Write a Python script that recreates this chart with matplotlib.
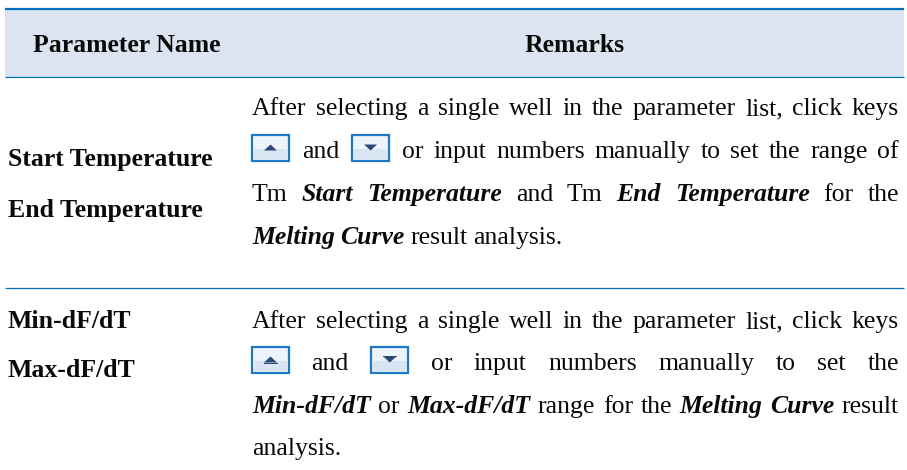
import matplotlib
matplotlib.use("Agg")
import matplotlib.pyplot as plt
from matplotlib.patches import Rectangle, Polygon

# table text
headers = ["Parameter Name", "Remarks"]
left_col_1 = ["Start Temperature", "End Temperature"]
left_col_2 = ["Min-dF/dT", "Max-dF/dT"]

# remarks, * = bold italic word, [up] / [down] = key icon
remarks_1 = [
    "After selecting a single well in the parameter list, click keys",
    "[up] and [down] or input numbers manually to set the range of",
    "Tm *Start *Temperature and Tm *End *Temperature for the",
    "*Melting *Curve result analysis.",
]
remarks_2 = [
    "After selecting a single well in the parameter list, click keys",
    "[up] and [down] or input numbers manually to set the",
    "*Min-dF/dT or *Max-dF/dT range for the *Melting *Curve result",
    "analysis.",
]

BLUE = "#0070c0"
HEAD = "#dbe4f0"
INK = "#0a0a0a"
SIZE = 18.5
FONT = "Liberation Serif"
X0, X1 = 252, 899

fig = plt.figure(figsize=(9.07, 4.7), dpi=100)
ax = fig.add_axes([0, 0, 1, 1])
ax.set_xlim(0, 907)
ax.set_ylim(470, 0)
ax.axis("off")

ax.add_patch(Rectangle((5, 9), 899, 68, fc=HEAD, ec="none"))
ax.plot([5, 904], [9, 9], color=BLUE, lw=1.6, solid_capstyle="butt")
ax.plot([5, 904], [77, 77], color=BLUE, lw=0.9, solid_capstyle="butt")
ax.plot([5, 904], [288, 288], color=BLUE, lw=0.9, solid_capstyle="butt")

renderer = fig.canvas.get_renderer()


def put(x, y, s, bold=True, italic=False, ha="left"):
    return ax.text(x, y, s, family=FONT, size=SIZE, color=INK, ha=ha, va="baseline",
                   fontweight="bold" if bold else "normal",
                   fontstyle="italic" if italic else "normal")


def key(x, y, up, stem):
    ax.add_patch(Rectangle((x, y), 37, 26, fc="#eef4fb", ec="#1a7ac8", lw=1.6))
    ax.add_patch(Rectangle((x + 2, y + 14), 33, 10, fc="#d9e5f3", ec="none"))
    cx, cy = x + 18.5, y + 12.5
    if up:
        pts = [(cx - 6.5, cy + 3), (cx + 6.5, cy + 3), (cx, cy - 3)]
    else:
        pts = [(cx - 6.5, cy - 3), (cx + 6.5, cy - 3), (cx, cy + 3)]
    ax.add_patch(Polygon(pts, fc="#2b4a75", ec="none"))
    if stem:
        sy = cy + 3 if up else cy - 4
        ax.add_patch(Rectangle((cx - 7, sy), 14, 1, fc="#2b4a75", ec="none"))


def line(y, text, justify=True, stem=False, pad=0):
    items = []
    total = 0
    for w in text.split():
        if w in ("[up]", "[down]"):
            items.append((w, None))
            total += 37 + pad
            if w == "[down]":
                total += pad
        else:
            bi = w.startswith("*")
            t = put(0, y, w.lstrip("*"), bold=bi, italic=bi)
            wd = t.get_window_extent(renderer).width
            items.append((t, wd))
            total += wd
    gap = (X1 - X0 - total) / (len(items) - 1) if justify and len(items) > 1 else 5.5
    x = X0
    for t, wd in items:
        if wd is None:
            if t == "[down]":
                x += pad
            key(x, y - 23, t == "[up]", stem)
            x += 37 + pad + gap
        else:
            t.set_x(x)
            x += wd + gap


put(33, 52, headers[0])
put(575, 52, headers[1], ha="center")
for y, s in zip([166, 217], left_col_1):
    put(8, y, s)
for y, s in zip([328, 377], left_col_2):
    put(8, y, s)

for i, (y, s) in enumerate(zip([115, 158, 201, 244], remarks_1)):
    line(y, s, justify=i < 3, pad=3)
for i, (y, s) in enumerate(zip([328, 370, 413, 455], remarks_2)):
    line(y, s, justify=i < 3, stem=True, pad=1)

fig.savefig("out.png", dpi=100)
